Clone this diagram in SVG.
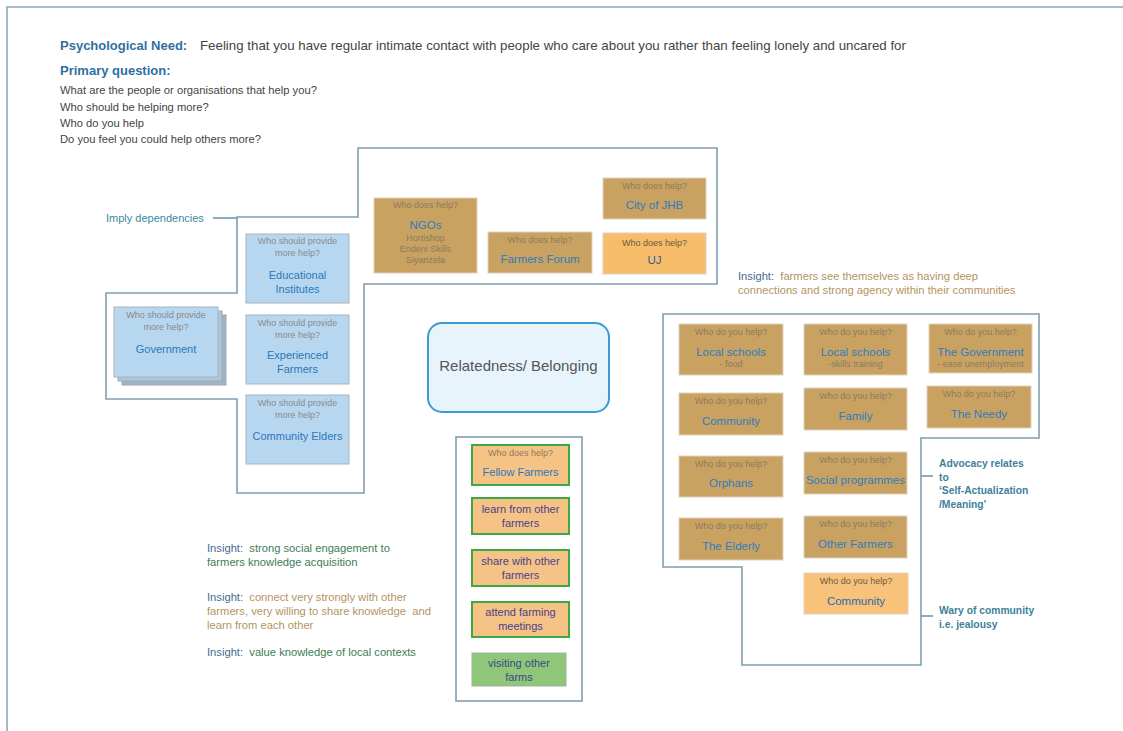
<svg xmlns="http://www.w3.org/2000/svg" width="1123" height="731" viewBox="0 0 1123 731">
<style>
text{font-family:"Liberation Sans",Arial,sans-serif;white-space:pre}
.hdb{font-size:13px;font-weight:bold;fill:#2f6fa3}
.hd{font-size:13.3px;fill:#444}
.q{font-size:11.2px;fill:#444}
.frame{fill:none;stroke:#7f9fae;stroke-width:1.6}
.lead{fill:none;stroke:#6f98aa;stroke-width:1.6}
.blue{fill:#b7d7f1;stroke:#a9b4bd;stroke-width:1}
.tan{fill:#c9a262;stroke:#ddd2c0;stroke-width:1}
.org{fill:#f7bd6a;stroke:#ddd2c0;stroke-width:1}
.ff{fill:#f6c386;stroke:#3fa845;stroke-width:2}
.gr{fill:#8fc679;stroke:#9bb59a;stroke-width:1}
.sm{font-size:9px;fill:#8a8a8a;text-anchor:middle}
.smt{font-size:9px;fill:#8c7a5e;text-anchor:middle}
.nm{font-size:11px;fill:#2a78b8;text-anchor:middle}
.nmt{font-size:11.5px;fill:#2f7cbf;text-anchor:middle}
.pp{font-size:11px;fill:#4a3f8c;text-anchor:middle}
.ann{font-size:10.3px;fill:#3e7f9b;font-weight:bold}
.ins{font-size:11.2px}
</style>
<rect width="1123" height="731" fill="#fff"/>
<polyline points="7,731 7,7 1123,7" fill="none" stroke="#8aa9b6" stroke-width="1.6"/>

<g id="header">
<text x="60" y="50" class="hdb">Psychological Need:</text>
<text x="200" y="50" class="hd">Feeling that you have regular intimate contact with people who care about you rather than feeling lonely and uncared for</text>
<text x="60" y="75" class="hdb">Primary question:</text>
<text x="60" y="94" class="q">What are the people or organisations that help you?</text>
<text x="60" y="111" class="q">Who should be helping more?</text>
<text x="60" y="127" class="q">Who do you help</text>
<text x="60" y="143" class="q">Do you feel you could help others more?</text>
</g>

<g id="connectors">
<polygon class="frame" points="358,148 717,148 717,284 364,284 364,493 237,493 237,399 106,399 106,293 237,293 237,217 358,217"/>
<polygon class="frame" points="663,314 1039,314 1039,438 921,438 921,665 742,665 742,567 663,567"/>
<rect class="frame" x="456" y="437" width="126" height="264"/>
<line class="lead" x1="213" y1="218" x2="237" y2="218"/>
<line class="lead" x1="921" y1="476" x2="933" y2="476"/>
<line class="lead" x1="921" y1="616" x2="933" y2="616"/>
</g>

<g id="label-imply"><text x="106" y="222" style="font-size:11px;fill:#3a8aa5">Imply dependencies</text></g>

<g id="node-educational">
<rect class="blue" x="246" y="234" width="103" height="69"/>
<text x="297.5" y="244" class="sm">Who should provide</text>
<text x="297.5" y="256" class="sm">more help?</text>
<text x="297.5" y="279" class="nm">Educational</text>
<text x="297.5" y="293" class="nm">Institutes</text>
</g>
<g id="node-government">
<rect x="122" y="315" width="104" height="70" fill="#9fb4c6" stroke="#a0a8b0"/>
<rect x="118" y="311" width="104" height="70" fill="#acc6dc" stroke="#a0a8b0"/>
<rect class="blue" x="114" y="307" width="104" height="70"/>
<text x="166" y="318" class="sm">Who should provide</text>
<text x="166" y="330" class="sm">more help?</text>
<text x="166" y="353" class="nm">Government</text>
</g>
<g id="node-experienced">
<rect class="blue" x="246" y="315" width="103" height="69"/>
<text x="297.5" y="326" class="sm">Who should provide</text>
<text x="297.5" y="338" class="sm">more help?</text>
<text x="297.5" y="359" class="nm">Experienced</text>
<text x="297.5" y="373" class="nm">Farmers</text>
</g>
<g id="node-elders">
<rect class="blue" x="246" y="395" width="103" height="69"/>
<text x="297.5" y="406" class="sm">Who should provide</text>
<text x="297.5" y="418" class="sm">more help?</text>
<text x="297.5" y="440" class="nm">Community Elders</text>
</g>

<g id="node-ngos">
<rect class="tan" x="374" y="198" width="103" height="75"/>
<text x="425.5" y="208" class="smt">Who does help?</text>
<text x="425.5" y="229" class="nmt">NGOs</text>
<text x="425.5" y="241" class="smt">Hortishop</text>
<text x="425.5" y="252" class="smt">Endeni Skills</text>
<text x="425.5" y="263" class="smt">Siyanzela</text>
</g>
<g id="node-farmersforum">
<rect class="tan" x="488" y="232" width="104" height="41"/>
<text x="540" y="243" class="smt">Who does help?</text>
<text x="540" y="263" class="nmt">Farmers Forum</text>
</g>
<g id="node-cityjhb">
<rect class="tan" x="603" y="178" width="103" height="41"/>
<text x="654.5" y="189" class="smt">Who does help?</text>
<text x="654.5" y="209" class="nmt">City of JHB</text>
</g>
<g id="node-uj">
<rect class="org" x="603" y="233" width="103" height="41"/>
<text x="654.5" y="246" class="smt" style="fill:#6a5a40">Who does help?</text>
<text x="654.5" y="264" class="nmt" style="fill:#2a5f9e">UJ</text>
</g>

<g id="node-center">
<rect x="428" y="323" width="181" height="89" rx="14" fill="#e7f4fc" stroke="#3b9bd2" stroke-width="2"/>
<text x="518.5" y="371" style="font-size:15px;fill:#555;text-anchor:middle">Relatedness/ Belonging</text>
</g>

<g id="node-fellow">
<rect class="ff" x="472" y="445" width="97" height="40"/>
<text x="520.5" y="456" class="smt">Who does help?</text>
<text x="520.5" y="476" class="nm">Fellow Farmers</text>
</g>
<g id="node-learn">
<rect class="ff" x="472" y="498" width="97" height="36"/>
<text x="520.5" y="513" class="pp">learn from other</text>
<text x="520.5" y="527" class="pp">farmers</text>
</g>
<g id="node-share">
<rect class="ff" x="472" y="550" width="97" height="36"/>
<text x="520.5" y="565" class="pp">share with other</text>
<text x="520.5" y="579" class="pp">farmers</text>
</g>
<g id="node-attend">
<rect class="ff" x="472" y="602" width="97" height="35"/>
<text x="520.5" y="616" class="pp">attend farming</text>
<text x="520.5" y="630" class="pp">meetings</text>
</g>
<g id="node-visiting">
<rect class="gr" x="472" y="653" width="94" height="33"/>
<text x="519" y="667" class="pp" style="fill:#3a4a8c">visiting other</text>
<text x="519" y="681" class="pp" style="fill:#3a4a8c">farms</text>
</g>

<g id="node-ls-food">
<rect class="tan" x="679" y="324" width="104" height="51"/>
<text x="731" y="335" class="smt">Who do you help?</text>
<text x="731" y="356" class="nmt">Local schools</text>
<text x="731" y="367" class="smt">- food</text>
</g>
<g id="node-ls-skills">
<rect class="tan" x="804" y="324" width="103" height="51"/>
<text x="855.5" y="335" class="smt">Who do you help?</text>
<text x="855.5" y="356" class="nmt">Local schools</text>
<text x="855.5" y="367" class="smt">-skills training</text>
</g>
<g id="node-thegov">
<rect class="tan" x="929" y="324" width="103" height="49"/>
<text x="980.5" y="335" class="smt">Who do you help?</text>
<text x="980.5" y="356" class="nmt">The Government</text>
<text x="980.5" y="367" class="smt">- ease unemployment</text>
</g>
<g id="node-community1">
<rect class="tan" x="679" y="393" width="104" height="42"/>
<text x="731" y="404" class="smt">Who do you help?</text>
<text x="731" y="425" class="nmt">Community</text>
</g>
<g id="node-family">
<rect class="tan" x="804" y="388" width="103" height="42"/>
<text x="855.5" y="399" class="smt">Who do you help?</text>
<text x="855.5" y="420" class="nmt">Family</text>
</g>
<g id="node-needy">
<rect class="tan" x="927" y="386" width="104" height="42"/>
<text x="979" y="397" class="smt">Who do you help?</text>
<text x="979" y="418" class="nmt">The Needy</text>
</g>
<g id="node-orphans">
<rect class="tan" x="679" y="456" width="104" height="41"/>
<text x="731" y="467" class="smt">Who do you help?</text>
<text x="731" y="487" class="nmt">Orphans</text>
</g>
<g id="node-social">
<rect class="tan" x="804" y="452" width="103" height="42"/>
<text x="855.5" y="463" class="smt">Who do you help?</text>
<text x="855.5" y="484" class="nmt">Social programmes</text>
</g>
<g id="node-elderly">
<rect class="tan" x="679" y="518" width="104" height="42"/>
<text x="731" y="529" class="smt">Who do you help?</text>
<text x="731" y="550" class="nmt">The Elderly</text>
</g>
<g id="node-otherfarmers">
<rect class="tan" x="804" y="516" width="103" height="42"/>
<text x="855.5" y="527" class="smt">Who do you help?</text>
<text x="855.5" y="548" class="nmt">Other Farmers</text>
</g>
<g id="node-community2">
<rect class="org" x="804" y="573" width="104" height="41" style="fill:#f8c27a"/>
<text x="856" y="584" class="smt" style="fill:#6a5a40">Who do you help?</text>
<text x="856" y="605" class="nmt" style="fill:#2a6aaa">Community</text>
</g>

<g id="label-advocacy">
<text x="939" y="467" class="ann">Advocacy relates</text>
<text x="939" y="481" class="ann">to</text>
<text x="939" y="494" class="ann">‘Self-Actualization</text>
<text x="939" y="508" class="ann">/Meaning’</text>
</g>
<g id="label-wary">
<text x="939" y="614" class="ann">Wary of community</text>
<text x="939" y="628" class="ann">i.e. jealousy</text>
</g>

<g id="insight-right">
<text x="738" y="280" class="ins"><tspan fill="#4a6b8e">Insight:</tspan><tspan fill="#b39463">  farmers see themselves as having deep</tspan></text>
<text x="738" y="294" class="ins" fill="#b39463">connections and strong agency within their communities</text>
</g>
<g id="insights-left">
<text x="207" y="552" class="ins"><tspan fill="#4a6b8e">Insight:</tspan><tspan fill="#3d7d55">  strong social engagement to</tspan></text>
<text x="207" y="566" class="ins" fill="#3d7d55">farmers knowledge acquisition</text>
<text x="207" y="601" class="ins"><tspan fill="#4a6b8e">Insight:</tspan><tspan fill="#b39463">  connect very strongly with other</tspan></text>
<text x="207" y="615" class="ins" fill="#b39463">farmers, very willing to share knowledge  and</text>
<text x="207" y="629" class="ins" fill="#b39463">learn from each other</text>
<text x="207" y="656" class="ins"><tspan fill="#4a6b8e">Insight:</tspan><tspan fill="#3d7d55">  value knowledge of local contexts</tspan></text>
</g>
</svg>
